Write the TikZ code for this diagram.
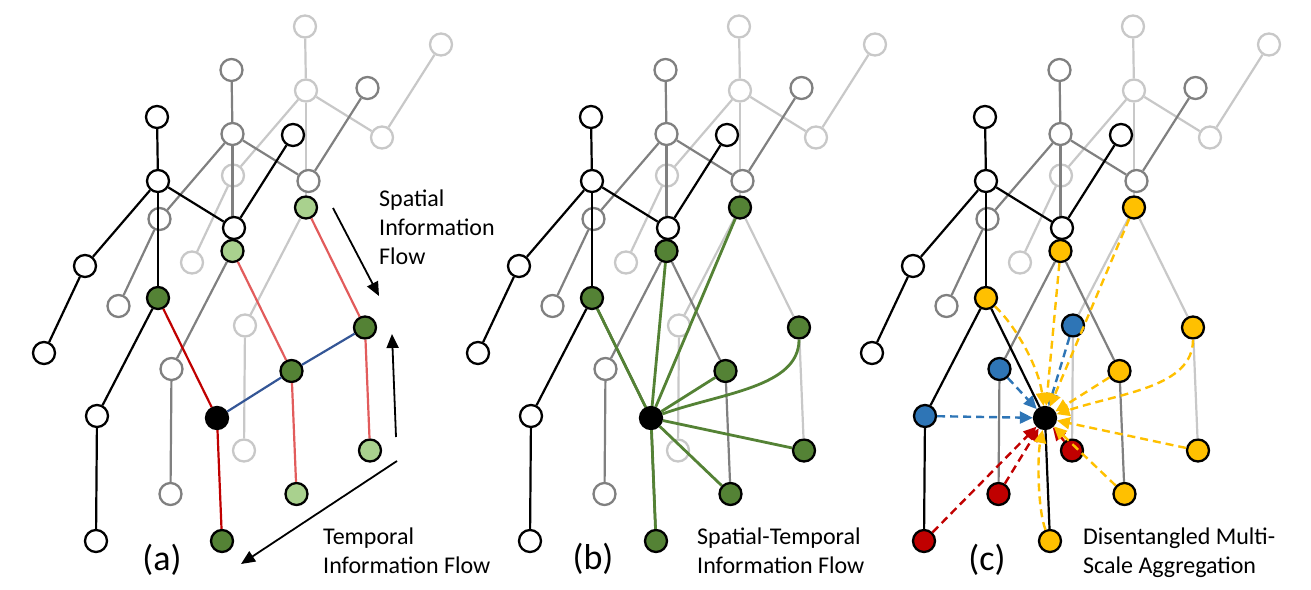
\documentclass[tikz,border=0pt]{standalone}
\usepackage{fontspec}
\setmainfont{Carlito}
\usetikzlibrary{arrows.meta}
\definecolor{lgray}{RGB}{200,200,200}
\definecolor{mgray}{RGB}{128,128,128}
\definecolor{dgreen}{RGB}{84,130,53}
\definecolor{lgreen}{RGB}{169,209,142}
\definecolor{dred}{RGB}{192,0,0}
\definecolor{lred}{RGB}{226,92,92}
\definecolor{eblue}{RGB}{52,86,150}
\definecolor{cblue}{RGB}{46,117,182}
\definecolor{cyellow}{RGB}{255,192,0}

\begin{document}
\begin{tikzpicture}[x=1pt,y=-1pt]
	\tikzstyle{every node}+=[inner sep=0pt]
	\tikzstyle{jnt}=[circle,minimum size=22pt,line width=2.3pt,fill=white]
	\tikzstyle{bone}=[line width=2.2pt]
	\tikzstyle{dgn}=[fill=dgreen,draw=black]
	\tikzstyle{lgn}=[fill=lgreen,draw=black]
	\tikzstyle{ylw}=[fill=cyellow,draw=black]
	\tikzstyle{blu}=[fill=cblue,draw=black]
	\tikzstyle{rdn}=[fill=dred,draw=black]
	\tikzstyle{ctr}=[fill=black,draw=black]
	\tikzstyle{flow}=[line width=1.8pt,-{Triangle[length=14pt,width=12pt]}]
	\tikzstyle{gline}=[line width=2.8pt,dgreen]
	\tikzstyle{dflow}=[line width=2.4pt,dash pattern=on 8pt off 5pt,-{Triangle[length=13pt,width=12pt]}]
	\tikzstyle{lbl}=[font=\fontsize{24}{29}\selectfont,align=left,anchor=base west]
	\tikzstyle{tag}=[font=\fontsize{36}{40}\selectfont]
	\tikzset{a1hip/.style=dgn,a1rk/.style=ctr,a1rf/.style=dgn,a2hip/.style=lgn,a2rk/.style=dgn,a2rf/.style=lgn,
		a3hip/.style=lgn,a3rk/.style=dgn,a3rf/.style=lgn,
		a1hip-rk/.style={color=dred},a1rk-rf/.style={color=dred},a2hip-rk/.style={color=lred},a2rk-rf/.style={color=lred},
		a3hip-rk/.style={color=lred},a3rk-rf/.style={color=lred},
		b1hip/.style=dgn,b1rk/.style=ctr,b1rf/.style=dgn,b2hip/.style=dgn,b2rk/.style=dgn,b2rf/.style=dgn,
		b3hip/.style=dgn,b3rk/.style=dgn,b3rf/.style=dgn,
		c1hip/.style=ylw,c1rk/.style=ctr,c1rf/.style=ylw,c2hip/.style=ylw,c2rk/.style=ylw,c2rf/.style=ylw,
		c3hip/.style=ylw,c3rk/.style=ylw,c3rf/.style=ylw,
		c1lk/.style=blu,c2lk/.style=blu,c3lk/.style=blu,c1lf/.style=rdn,c2lf/.style=rdn,c3lf/.style=rdn}
	\useasboundingbox (0,0) rectangle (1311,589);
	\foreach \pn/\px in {a/0,b/434,c/828}
	\foreach \ly/\dx/\dy/\col in {3/148/-90.5/lgray,2/74.5/-47/mgray,1/0/0/black}{
		\begin{scope}[shift={(\px+\dx,\dy)}]
		\foreach \jt/\x/\y in {head/157/117,neck/158/181,le/85/266,lh/44/353,re/234/228,rh/293/135,
			hip/158/298,lk/97/416,lf/96/541,rk/217/418,rf/222/541}
			\node[jnt,draw=\col,\pn\ly\jt/.try] (\pn\ly\jt) at (\x,\y) {};
		\foreach \u/\v in {head/neck,neck/le,le/lh,neck/re,re/rh,neck/hip,hip/lk,lk/lf,hip/rk,rk/rf}
			\draw[bone,color=\col,\pn\ly\u-\v/.try] (\pn\ly\u) -- (\pn\ly\v);
		\end{scope}
	}
	\draw[bone,eblue] (a1rk) -- (a2rk) (a2rk) -- (a3rk);
	\coordinate (sp1) at (333,208);
	\coordinate (sp2) at (379,296);
	\coordinate (up1) at (396,437);
	\coordinate (up2) at (392,334);
	\coordinate (tp1) at (397,461);
	\coordinate (tp2) at (241,564);
	\draw[flow] (sp1) -- (sp2);
	\draw[flow] (up1) -- (up2);
	\draw[flow] (tp1) -- (tp2);
	\node[lbl] (sptxt) at (379,264) {Spatial\\Information\\Flow};
	\node[lbl] (tptxt) at (323,573) {Temporal\\Information Flow};
	\node[tag] (taga) at (162,560) {(a)};
	\foreach \t in {b1hip,b2hip,b3hip,b2rk,b1rf,b2rf,b3rf}
		\draw[gline] (b1rk) -- (\t);
	\draw[gline] (b1rk) .. controls +(70,-25) and +(0,60) .. (b3rk);
	\node[lbl] (sttxt) at (697,573) {Spatial-Temporal\\Information Flow};
	\node[tag] (tagb) at (593,559) {(b)};
	\foreach \t/\cl in {c1lk/cblue,c2lk/cblue,c3lk/cblue,c1lf/dred,c2lf/dred,c3lf/dred,
		c2hip/cyellow,c3hip/cyellow,c2rk/cyellow,c3rf/cyellow,c2rf/cyellow}
		\draw[dflow,color=\cl] (\t) -- (c1rk);
	\draw[dflow,color=cyellow] (c1hip) .. controls +(30,28) and +(-6,-50) .. (c1rk);
	\draw[dflow,color=cyellow] (c3rk) .. controls +(0,60) and +(75,-25) .. (c1rk);
	\draw[dflow,color=cyellow] (c1rf) .. controls +(-12,-30) and +(-8,40) .. (c1rk);
	\node[lbl] (dmtxt) at (1083,573) {Disentangled Multi-\\Scale Aggregation};
	\node[tag] (tagc) at (987,560) {(c)};
\end{tikzpicture}
\end{document}
